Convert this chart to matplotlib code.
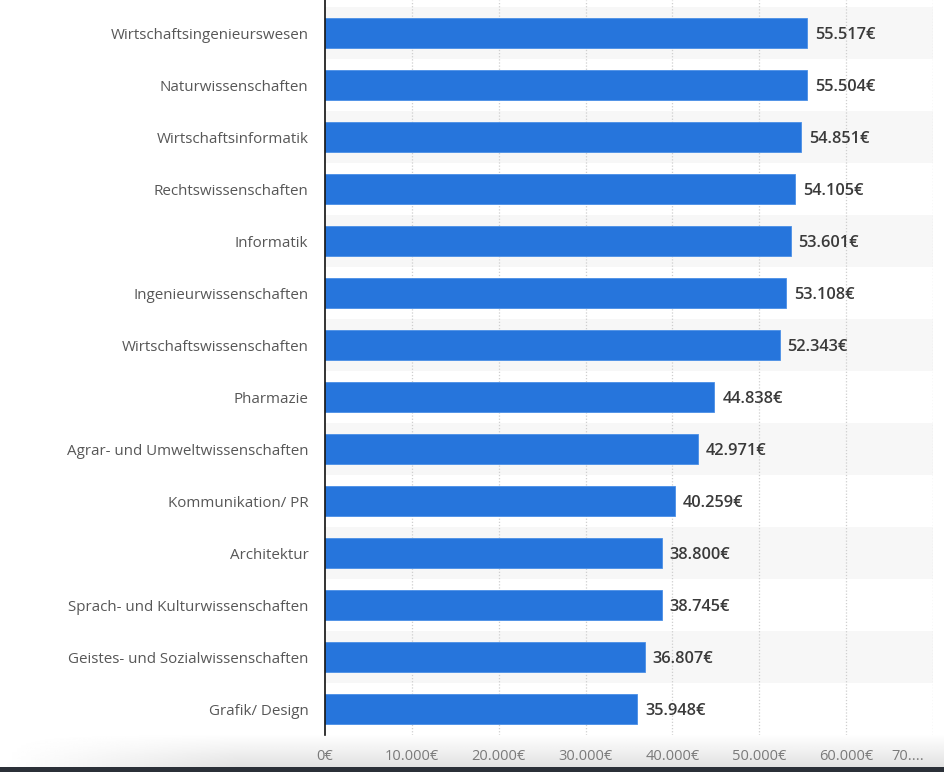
import numpy as np
import matplotlib.pyplot as plt
import matplotlib.transforms as mtransforms

# Einstiegsgehälter nach Studienrichtung
faecher = ['Wirtschaftsingenieurswesen', 'Naturwissenschaften', 'Wirtschaftsinformatik',
           'Rechtswissenschaften', 'Informatik', 'Ingenieurwissenschaften',
           'Wirtschaftswissenschaften', 'Pharmazie', 'Agrar- und Umweltwissenschaften',
           'Kommunikation/ PR', 'Architektur', 'Sprach- und Kulturwissenschaften',
           'Geistes- und Sozialwissenschaften', 'Grafik/ Design']
gehalt = [55517, 55504, 54851, 54105, 53601, 53108, 52343, 44838, 42971,
          40259, 38800, 38745, 36807, 35948]
xticks = [0, 10000, 20000, 30000, 40000, 50000, 60000, 70000]
xticklabels = ['0€', '10.000€', '20.000€', '30.000€', '40.000€', '50.000€', '60.000€', '70....']

plt.rcParams['font.family'] = ['Open Sans', 'DejaVu Sans']

fig = plt.figure(figsize=(9.45, 7.72), dpi=100)
W, H = 945, 772
ax = fig.add_axes([325 / W, 1 - 735 / H, (933 - 325) / W, 735 / H])

y = np.arange(len(faecher))
# alternating row bands
for i in y:
    if i % 2 == 0:
        ax.axhspan(i - 0.5, i + 0.5, color='#f7f7f7', zorder=0, lw=0)

for t in xticks[1:]:
    ax.axvline(t, color='#cfcfcf', lw=0.9, ls=(0, (1, 1.5)), zorder=1)

ax.barh(y, gehalt, height=0.58, color='#2675dc', edgecolor='#4a8fe6', lw=0.6, zorder=2)

def fmt(v):
    return f'{v:,}'.replace(',', '.') + '€'

for yi, v in zip(y, gehalt):
    ax.text(v + 900, yi, fmt(v), va='center_baseline', ha='left', fontsize=11.8,
            fontweight='semibold', color='#3a3a3a', zorder=3)

ax.set_xlim(0, 70000)
ax.set_ylim(13.5, -0.635)
ax.set_yticks(y)
ax.set_yticklabels(faecher, fontsize=10.9, color='#575757')
ax.set_xticks(xticks)
ax.set_xticklabels(xticklabels, fontsize=10.5, color='#7a7a7a')
ax.tick_params(axis='y', length=0, pad=12)
ax.tick_params(axis='x', length=0, pad=10)
last = ax.get_xticklabels()[-1]
last.set_transform(last.get_transform() + mtransforms.ScaledTranslation(-0.25, 0, fig.dpi_scale_trans))
for s in ['top', 'right', 'bottom']:
    ax.spines[s].set_visible(False)
ax.spines['left'].set_color('#111111')
ax.spines['left'].set_linewidth(1.2)
ax.patch.set_alpha(0)

# bottom shading of the screenshot
bg = fig.add_axes([0, 0, 1, 38 / H], zorder=-1)
gy = np.linspace(0, 1, 40)[:, None]
gx = np.linspace(0, 1, 200)[None, :]
shade = 1 - 0.13 * (1 - gy) * np.clip(gx * 4, 0, 1)
bg.imshow(shade, cmap='gray', vmin=0, vmax=1, aspect='auto', origin='lower',
          extent=[0, 1, 0, 1])
bg.axis('off')
bar = fig.add_axes([0, 0, 1, 5 / H])
bar.set_facecolor('#2b3038')
bar.set_xticks([])
bar.set_yticks([])
for s in bar.spines.values():
    s.set_visible(False)

fig.savefig('out.png', dpi=100)
